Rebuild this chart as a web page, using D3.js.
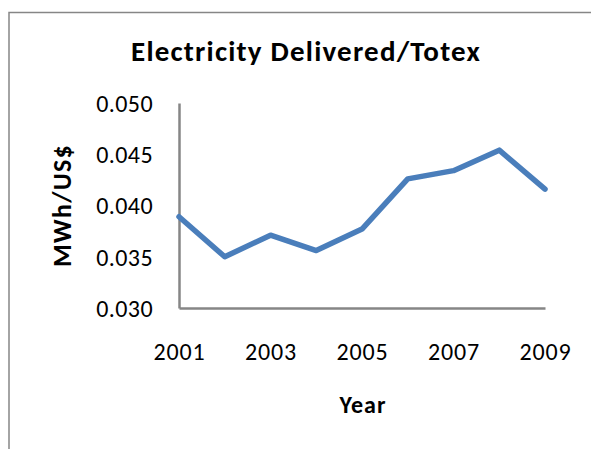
<!DOCTYPE html>
<html>
<head>
<meta charset="utf-8">
<script src="https://cdnjs.cloudflare.com/ajax/libs/d3/7.8.5/d3.min.js"></script>
<style>
  body { margin: 0; background: #fff; }
  svg { display: block; }
  text { font-family: Carlito, Calibri, Lato, sans-serif; fill: #000; }
</style>
</head>
<body>
<div id="chart"></div>
<script>
// chart data
const years = [2001, 2002, 2003, 2004, 2005, 2006, 2007, 2008, 2009];
const values = [0.0389, 0.0350, 0.0371, 0.0356, 0.0377, 0.0426, 0.0434, 0.0454, 0.0416];
const yTicks = [0.030, 0.035, 0.040, 0.045, 0.050];
const xTickYears = [2001, 2003, 2005, 2007, 2009];

const width = 591, height = 449;
const margin = {top: 103, right: 46, bottom: 141, left: 179};

const svg = d3.select('#chart').append('svg')
  .attr('width', width)
  .attr('height', height);

// outer chart border (cut off at right and bottom)
svg.append('path')
  .attr('d', `M9,${height + 2}V12.5H${width + 2}`)
  .attr('fill', 'none')
  .attr('stroke', '#868686')
  .attr('stroke-width', 1.5);

const x = d3.scalePoint()
  .domain(years)
  .range([margin.left, width - margin.right]);

const y = d3.scaleLinear()
  .domain([0.030, 0.050])
  .range([height - margin.bottom, margin.top]);

// y axis
const yAxis = svg.append('g')
  .attr('transform', `translate(${margin.left},0)`)
  .call(d3.axisLeft(y).tickValues(yTicks).tickFormat(d3.format('.3f')).tickSize(0).tickPadding(26));
yAxis.select('.domain').attr('stroke', '#868686').attr('stroke-width', 2.5);
yAxis.selectAll('text')
  .style('font-size', '24px')
  .style('letter-spacing', '0.4px')
  .attr('dy', '0.35em');

// x axis
const xAxis = svg.append('g')
  .attr('transform', `translate(0,${height - margin.bottom})`)
  .call(d3.axisBottom(x).tickValues(xTickYears).tickSize(0).tickPadding(35));
xAxis.select('.domain').attr('stroke', '#868686').attr('stroke-width', 2.5);
xAxis.selectAll('text')
  .style('font-size', '24px')
  .style('letter-spacing', '0.8px');

// line
const line = d3.line()
  .x((d, i) => x(years[i]))
  .y(d => y(d));

svg.append('path')
  .datum(values)
  .attr('fill', 'none')
  .attr('stroke', '#4A7EBB')
  .attr('stroke-width', 5.5)
  .attr('stroke-linejoin', 'round')
  .attr('stroke-linecap', 'round')
  .attr('d', line);

// titles
svg.append('text')
  .attr('x', 306)
  .attr('y', 61)
  .attr('text-anchor', 'middle')
  .style('font-size', '29px')
  .style('letter-spacing', '1.2px')
  .style('font-weight', 'bold')
  .text('Electricity Delivered/Totex');

svg.append('text')
  .attr('transform', `translate(71,${(margin.top + height - margin.bottom) / 2}) rotate(-90)`)
  .attr('text-anchor', 'middle')
  .style('font-size', '26px')
  .style('letter-spacing', '1.3px')
  .style('font-weight', 'bold')
  .text('MWh/US$');

svg.append('text')
  .attr('x', (margin.left + width - margin.right) / 2 + 1)
  .attr('y', 413)
  .attr('text-anchor', 'middle')
  .style('font-size', '24px')
  .style('letter-spacing', '1px')
  .style('font-weight', 'bold')
  .text('Year');
</script>
</body>
</html>
